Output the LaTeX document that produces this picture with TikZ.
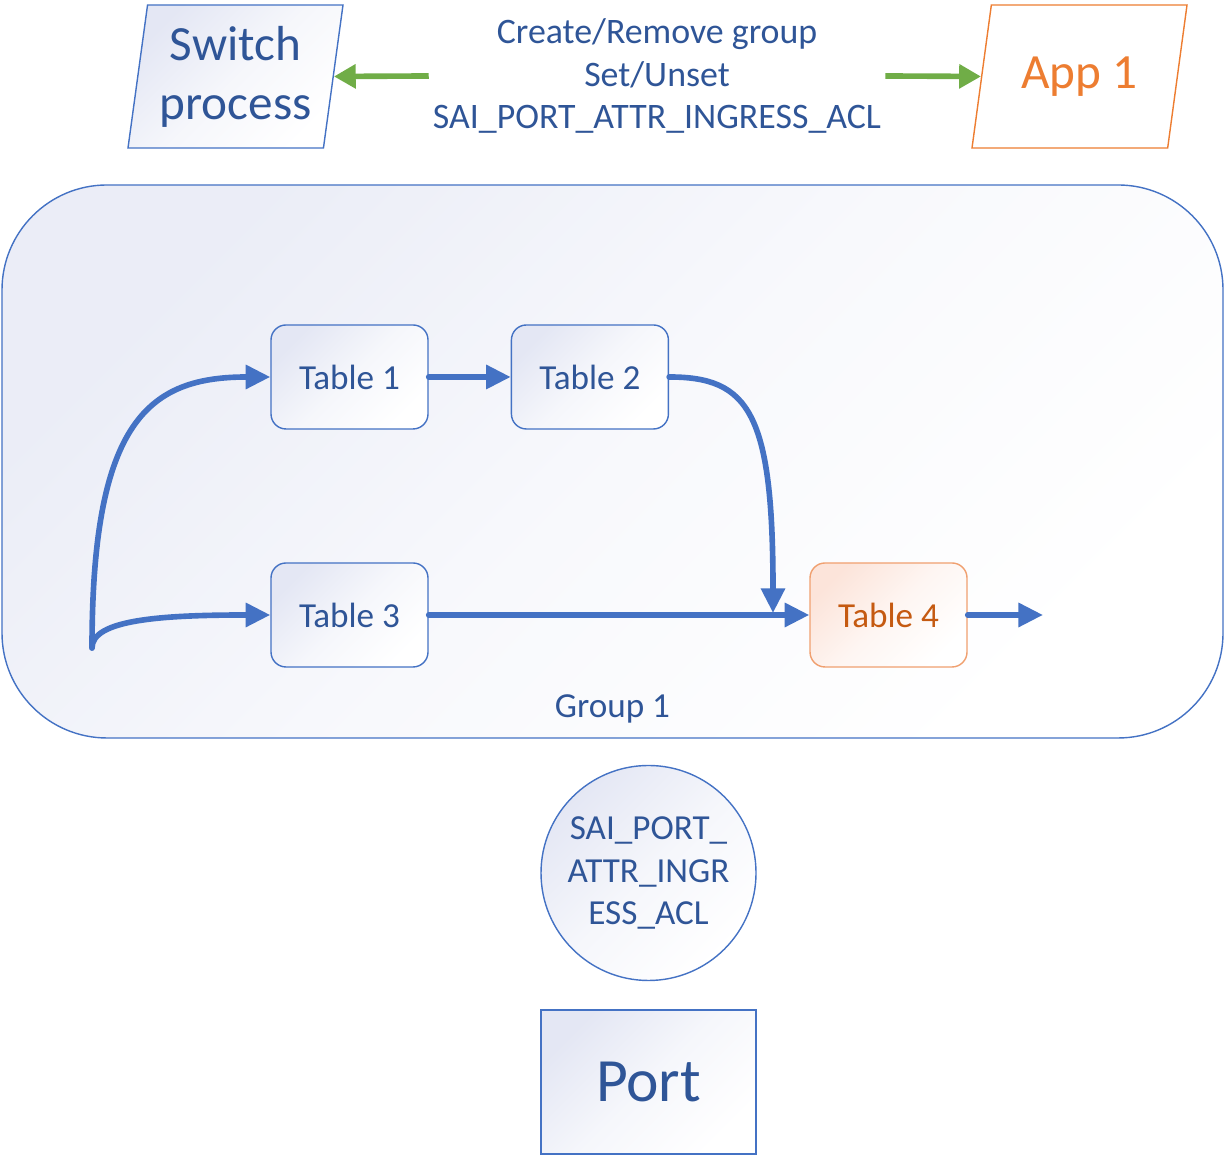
\documentclass[tikz,border=0pt]{standalone}
\usepackage{fontspec}
\setmainfont{Carlito}
\usetikzlibrary{shapes.geometric, arrows.meta, positioning}
\definecolor{lineblue}{HTML}{4472C4}
\definecolor{textblue}{HTML}{2F5597}
\definecolor{apporange}{HTML}{ED7D31}
\definecolor{tableorange}{HTML}{C55A11}
\definecolor{borderorange}{HTML}{F0A070}
\definecolor{cmdgreen}{HTML}{70AD47}
\definecolor{lavender}{HTML}{E4E7F4}
\definecolor{peach}{HTML}{FCE4DA}
\begin{document}
\begin{tikzpicture}[
    grad/.style={top color=#1, bottom color=white, middle color=#1!35!white, shading angle=45},
    box node/.style={draw=lineblue, line width=0.4pt, text=textblue, grad=lavender},
    table node/.style={box node, rounded corners=0.15cm, minimum width=1.57cm, minimum height=1.04cm, font=\fontsize{10}{12.2}\selectfont},
    io node/.style={trapezium, trapezium left angle=82, trapezium right angle=98, trapezium stretches body, minimum width=2.15cm, minimum height=1.43cm, align=center, font=\fontsize{14}{16.8}\selectfont},
    flow/.style={draw=lineblue, line width=1.6pt, line cap=round, -{Triangle[length=7pt, width=6.6pt]}},
    cmd/.style={draw=cmdgreen, line width=1.6pt, -{Triangle[length=6.2pt, width=6.6pt]}}]

    \useasboundingbox (0,0) rectangle (12.25,11.56);

    % Top row
    \node[io node, box node, inner ysep=0.19cm] (switch) at (2.355,10.795) {Switch\\process};
    \node[io node, inner ysep=0.49cm, draw=apporange, line width=0.4pt, text=apporange, fill=white] (app) at (10.795,10.795) {App 1};
    \node[text=textblue, align=center, inner sep=1pt, font=\fontsize{10.2}{12.2}\selectfont] (cmds) at (6.57,10.80) {Create/Remove group\\Set/Unset\\SAI\_PORT\_ATTR\_INGRESS\_ACL};

    \draw[cmd] (cmds.west) -- (switch.east);
    \draw[cmd] (cmds.east) -- (app.west);

    % Group
    \node[box node, grad=lavender!75!white, rounded corners=1.05cm, minimum width=12.21cm, minimum height=5.53cm] (group) at (6.125,6.945) {};
    \node[text=textblue, font=\fontsize{10}{12.2}\selectfont] (group label) at ([yshift=0.30cm]group.south) {Group 1};

    \node[table node] (t1) at (3.495,7.79) {Table 1};
    \node[table node, right=0.82cm of t1] (t2) {Table 2};
    \node[table node] (t3) at (3.495,5.41) {Table 3};
    \node[table node, draw=borderorange, text=tableorange, grad=peach] (t4) at (8.885,5.41) {Table 4};

    \coordinate (split) at (0.92,5.08);
    \coordinate (merge) at (7.73,5.43);
    \coordinate (exit) at (10.43,5.41);

    \draw[flow] (split) to[out=90, in=180, out distance=2.28cm, in distance=1.21cm] (t1.west);
    \draw[flow] (split) to[out=90, in=180, out distance=0.28cm, in distance=1.11cm] (t3.west);
    \draw[flow] (t1) -- (t2);
    \draw[flow] (t3) -- (t4);
    \draw[flow] (t2.east) to[out=0, in=90, out distance=0.8cm, in distance=2.0cm] (merge);
    \draw[flow] (t4) -- (exit);

    % Port
    \node[circle, box node, minimum size=2.15cm, inner sep=0pt, align=center, font=\fontsize{10}{12.2}\selectfont] (attr) at (6.485,2.83) {SAI\_PORT\_\\ATTR\_INGR\\ESS\_ACL};
    \node[box node, minimum width=2.15cm, minimum height=1.44cm, font=\fontsize{17.5}{21}\selectfont] (port) at (6.485,0.74) {Port};

\end{tikzpicture}
\end{document}
